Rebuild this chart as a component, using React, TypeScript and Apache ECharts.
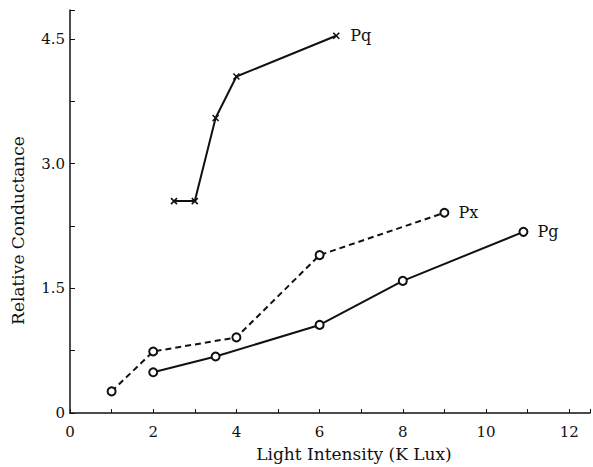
import React, { useEffect, useRef } from "react";
import * as echarts from "echarts";

const pqX = [2.5, 3.0, 3.5, 4.0, 6.4];
const pqY = [2.55, 2.55, 3.55, 4.05, 4.54];
const pxX = [1.0, 2.0, 4.0, 6.0, 9.0];
const pxY = [0.26, 0.74, 0.91, 1.9, 2.41];
const pgX = [2.0, 3.5, 6.0, 8.0, 10.9];
const pgY = [0.49, 0.68, 1.06, 1.59, 2.18];
const seriesNames = ["Pq", "Px", "Pg"];
const xTitle = "Light Intensity (K Lux)";
const yTitle = "Relative Conductance";

const FONT = "'DejaVu Serif', 'Liberation Serif', serif";
const INK = "#111";

function pairs(xs: number[], ys: number[]) {
  return xs.map((x, i) => [x, ys[i]]);
}

export default function App() {
  const ref = useRef<HTMLDivElement>(null);
  useEffect(() => {
    if (!ref.current) return;
    const chart = echarts.init(ref.current, null, { renderer: "svg" });
    const crossSymbol = "path://M0,0L10,10M10,0L0,10";
    const endLabel = (name: string) => ({
      show: true,
      formatter: name,
      distance: 14,
      color: INK,
      fontFamily: FONT,
      fontSize: 16,
    });
    chart.setOption({
      animation: false,
      backgroundColor: "#fff",
      grid: { left: 70, right: 0, top: 10, bottom: 51, containLabel: false },
      xAxis: {
        type: "value",
        min: 0,
        max: 12.5,
        interval: 2,
        name: xTitle,
        nameLocation: "middle",
        nameGap: 32,
        nameTextStyle: { color: INK, fontFamily: FONT, fontSize: 17, padding: [0, 0, 0, 48] },
        axisLine: { show: true, lineStyle: { color: INK, width: 1.5 } },
        axisTick: { show: true, inside: true, length: 4, lineStyle: { color: INK } },
        minorTick: { show: true, splitNumber: 2, length: 4, lineStyle: { color: INK } },
        splitLine: { show: false },
        axisLabel: {
          color: INK,
          fontFamily: FONT,
          fontSize: 15,
          margin: 11,
          formatter: (v: number) => (Math.abs(v % 2) < 1e-6 && v <= 12 ? String(v) : ""),
        },
      },
      yAxis: {
        type: "value",
        min: 0,
        max: 4.85,
        interval: 0.75,
        name: yTitle,
        nameLocation: "middle",
        nameGap: 44,
        nameTextStyle: { color: INK, fontFamily: FONT, fontSize: 17, padding: [0, 38, 0, 0] },
        axisLine: { show: true, lineStyle: { color: INK, width: 1.5 } },
        axisTick: { show: true, inside: true, length: 5, lineStyle: { color: INK } },
        splitLine: { show: false },
        axisLabel: {
          color: INK,
          fontFamily: FONT,
          fontSize: 15,
          margin: 5,
          formatter: (v: number) => {
            const r = v / 1.5;
            if (Math.abs(r - Math.round(r)) > 1e-6) return "";
            return v === 0 ? "0" : v.toFixed(1);
          },
        },
      },
      series: [
        {
          name: seriesNames[0],
          type: "line",
          data: pairs(pqX, pqY),
          symbol: crossSymbol,
          symbolSize: 6,
          itemStyle: { color: "none", borderColor: INK, borderWidth: 1.6 },
          lineStyle: { color: INK, width: 2 },
          endLabel: endLabel(seriesNames[0]),
        },
        {
          name: seriesNames[1],
          type: "line",
          data: pairs(pxX, pxY),
          symbol: "emptyCircle",
          symbolSize: 8,
          itemStyle: { color: INK, borderColor: INK, borderWidth: 1.6 },
          lineStyle: { color: INK, width: 2, type: [6, 4] },
          endLabel: endLabel(seriesNames[1]),
        },
        {
          name: seriesNames[2],
          type: "line",
          data: pairs(pgX, pgY),
          symbol: "emptyCircle",
          symbolSize: 8,
          itemStyle: { color: INK, borderColor: INK, borderWidth: 1.6 },
          lineStyle: { color: INK, width: 2 },
          endLabel: endLabel(seriesNames[2]),
        },
      ],
    });
    return () => chart.dispose();
  }, []);
  return <div ref={ref} style={{ width: 593, height: 467, position: "absolute", left: 0, top: 0 }} />;
}
